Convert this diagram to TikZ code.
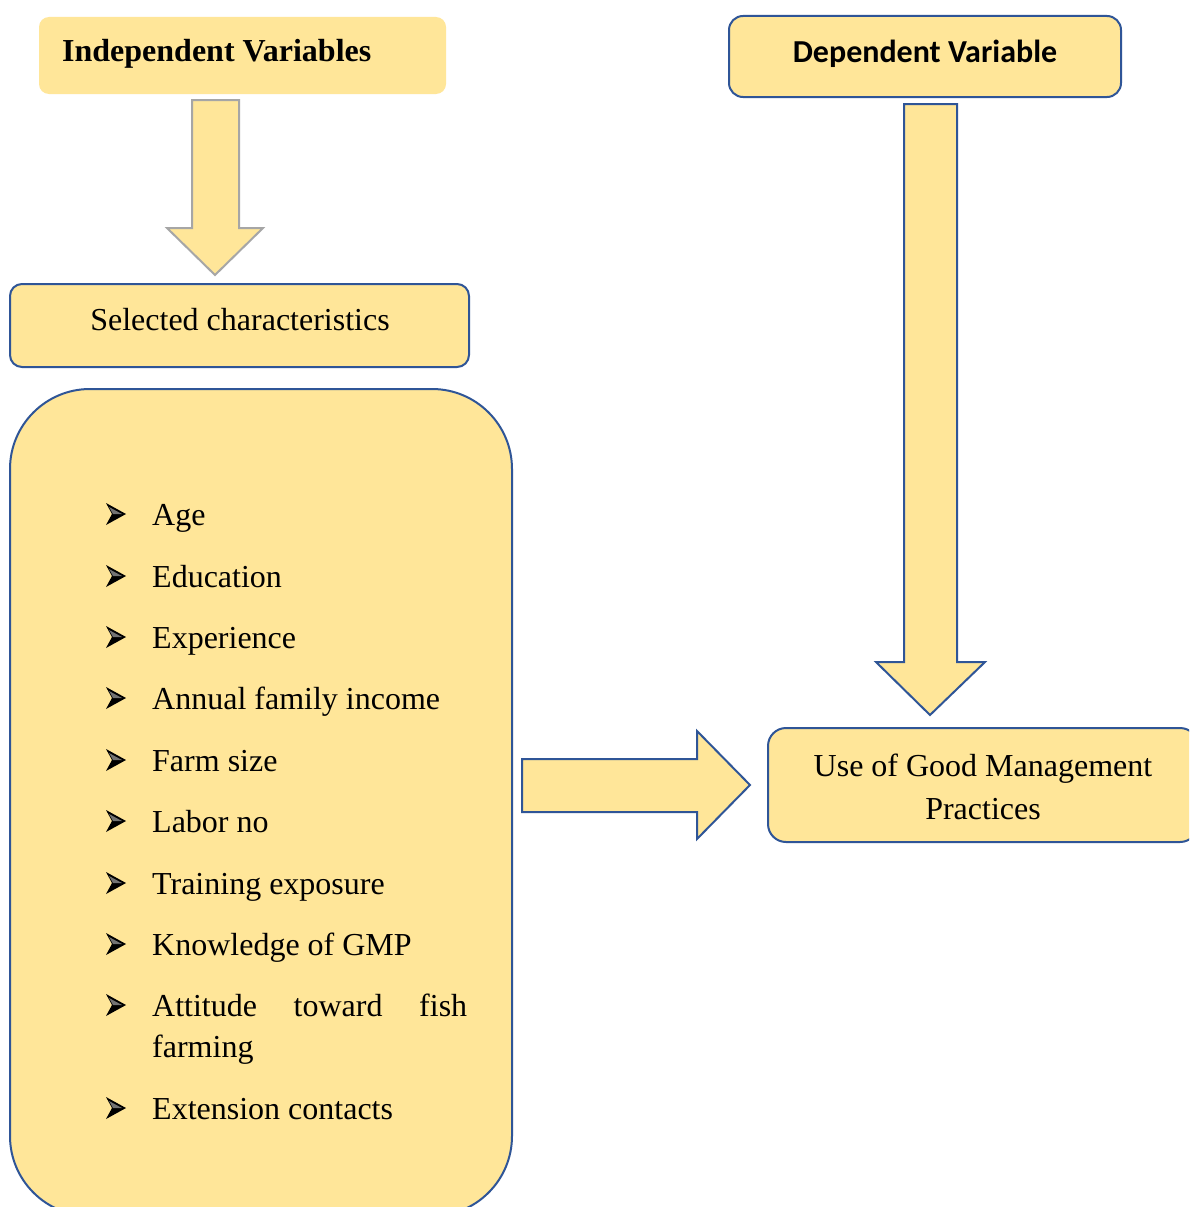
\documentclass[tikz,border=0pt]{standalone}
\usepackage{fontspec}
\setmainfont{Liberation Serif}
\newfontfamily\calfont{Carlito}
\definecolor{boxfill}{HTML}{FFE699}
\definecolor{boxline}{HTML}{2F5597}
\definecolor{arrgray}{HTML}{A6A6A6}
\tikzset{
  box/.style={draw=boxline, line width=2pt, fill=boxfill, inner sep=0pt},
  lbl/.style={inner sep=0pt, font=\fontsize{32}{41}\selectfont},
  blockarrow/.style={draw=boxline, line width=2pt, fill=boxfill, line join=miter},
  bul/.pic={
    \fill[black] (-10,-11) -- (10,0) -- (-10,11) -- (-4,0) -- cycle;
    \fill[black!55] (-7,-7) -- (6,0) -- (-3,0) -- cycle;
  }
}
\begin{document}
\begin{tikzpicture}[x=1pt,y=-1pt]
\useasboundingbox (0,0) rectangle (1189,1207);
\clip (0,0) rectangle (1189,1207);
\fill[white] (0,0) rectangle (1189,1207);

% Independent variables header
\node[fill=boxfill, rounded corners=10pt, inner sep=0pt, minimum width=407pt, minimum height=77pt] (indep) at (242.5,55.5) {};
\node[lbl, anchor=base west, font=\fontsize{32}{41}\selectfont\bfseries] (indeptxt) at (62,62) {Independent Variables};

% Dependent variable header
\node[box, rounded corners=14pt, minimum width=392pt, minimum height=81pt] (dep) at (925,56.5) {};
\node[lbl, anchor=base, font=\fontsize{32}{41}\selectfont\calfont\bfseries] (deptxt) at (925,63) {Dependent Variable};

% Selected characteristics
\node[box, rounded corners=12pt, minimum width=459pt, minimum height=83pt] (sel) at (239.5,325.5) {};
\node[lbl, anchor=base] (seltxt) at (240,330) {Selected characteristics};

% Big list box
\node[box, rounded corners=80pt, minimum width=502pt, minimum height=827pt] (list) at (261,802.5) {};

% Outcome box
\node[box, rounded corners=18pt, minimum width=430pt, minimum height=114pt] (gmp) at (983,785) {};
\node[lbl, anchor=base] (gmp1) at (983,776) {Use of Good Management};
\node[lbl, anchor=base] (gmp2) at (983,819) {Practices};

% Block arrows
\draw[blockarrow, draw=arrgray] (192,100) -- (239,100) -- (239,228) -- (263,228) -- (215,275) -- (167,228) -- (192,228) -- cycle;
\draw[blockarrow] (904,104) -- (957,104) -- (957,662) -- (985,662) -- (930,715) -- (876,662) -- (904,662) -- cycle;
\draw[blockarrow] (522,759) -- (697,759) -- (697,731) -- (750,785) -- (697,839) -- (697,812) -- (522,812) -- cycle;

% Bullet list
\foreach \by/\nm/\txt in {525/i1/Age, 587/i2/Education, 648/i3/Experience, 709/i4/Annual family income, 771/i5/Farm size, 832/i6/Labor no, 894/i7/Training exposure, 955/i8/Knowledge of GMP, 1119/i10/Extension contacts}{
  \pic at (116,\by-11) {bul};
  \node[lbl, anchor=base west] (\nm) at (152,\by) {\txt};
}
\pic at (116,1005) {bul};
\node[lbl, anchor=base west, text width=315pt, align=left] (i9) at (152,1016) {Attitude\hfill toward\hfill fish\\farming};
\end{tikzpicture}
\end{document}
